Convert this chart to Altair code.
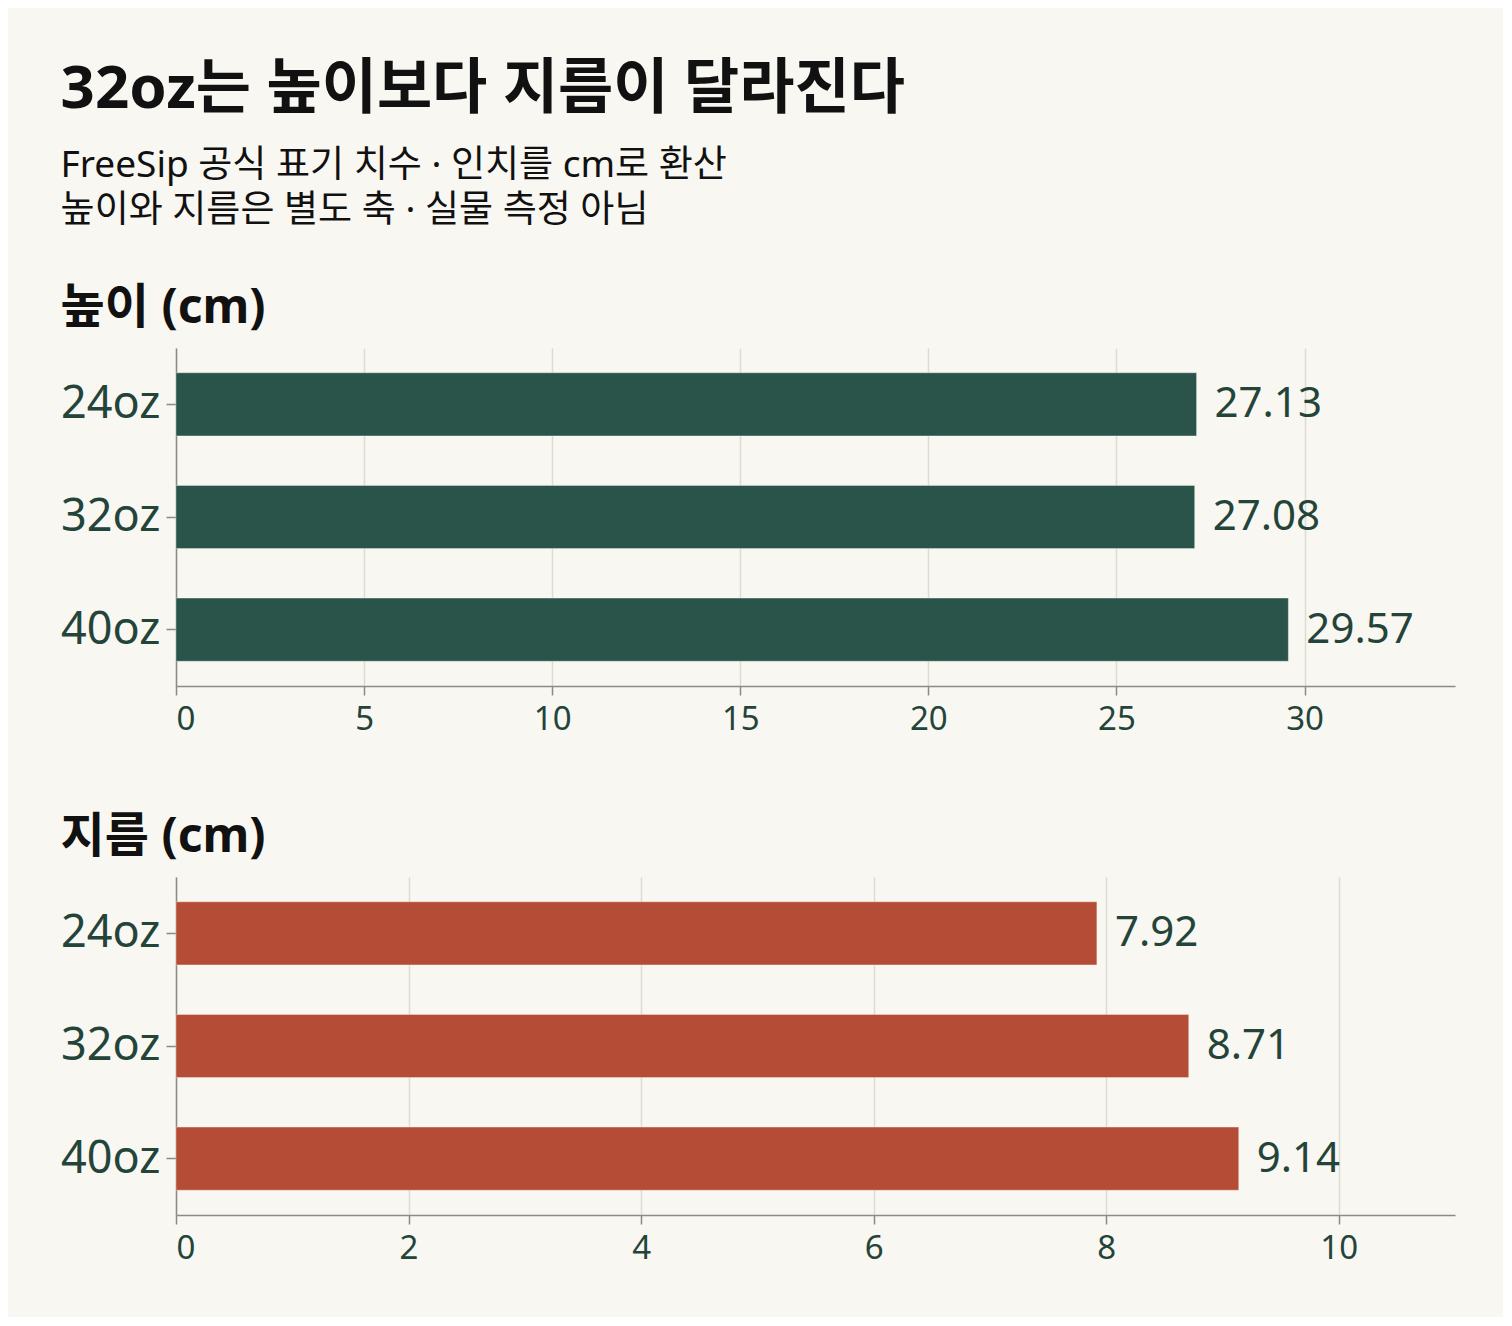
import altair as alt
import pandas as pd

# Data
SIZES = ["24oz", "32oz", "40oz"]
HEIGHT_CM = [27.13, 27.08, 29.57]
DIAMETER_CM = [7.92, 8.71, 9.14]
HEIGHT_TICKS = [0, 5, 10, 15, 20, 25, 30]
DIAMETER_TICKS = [0, 2, 4, 6, 8, 10]

TITLE = "32oz는 높이보다 지름이 달라진다"
SUBTITLE = ["FreeSip 공식 표기 치수 · 인치를 cm로 환산", "높이와 지름은 별도 축 · 실물 측정 아님"]

# Style
BG = "#f8f7f1"
GREEN = "#2a5449"
RED = "#b54d36"
INK = "#24443a"
FONT = "Noto Sans, Noto Sans CJK KR"


def panel(values, title, color, domain_max, ticks):
    df = pd.DataFrame({"size": SIZES, "value": values})
    df["label"] = [f"{v:.2f}" for v in values]

    base = alt.Chart(df).encode(
        alt.Y("size:N", sort=SIZES, title=None)
        .scale(paddingInner=0.44, paddingOuter=0.22)
        .axis(labelFontSize=45, labelPadding=6, tickSize=10, grid=False),
    )

    bars = base.mark_bar(color=color, stroke="white", strokeWidth=1, strokeOpacity=0.35).encode(
        alt.X("value:Q", title=None)
        .scale(domain=[0, domain_max], nice=False)
        .axis(values=ticks, format="d", labelFontSize=33, labelPadding=8, tickSize=9, grid=True),
    )

    text = base.mark_text(align="left", baseline="middle", dx=18, fontSize=42, font=FONT, color=INK).encode(
        x="value:Q",
        text="label:N",
    )

    return (bars + text).properties(
        width=1279,
        height=338,
        title=alt.TitleParams(title, anchor="start", fontSize=48, fontWeight="bold", font=FONT, color="#111111", offset=15),
    )


top = panel(HEIGHT_CM, "높이 (cm)", GREEN, 34, HEIGHT_TICKS)
bottom = panel(DIAMETER_CM, "지름 (cm)", RED, 11, DIAMETER_TICKS)

chart = (
    alt.vconcat(top, bottom, spacing=78)
    .properties(
        title=alt.TitleParams(
            TITLE,
            subtitle=SUBTITLE,
            anchor="start",
            fontSize=60,
            fontWeight="bold",
            font=FONT,
            color="#111111",
            subtitleFont=FONT,
            subtitleFontSize=37,
            subtitleColor="#111111",
            subtitleLineHeight=45,
            subtitlePadding=27,
            offset=55,
        ),
        padding={"left": 52, "top": 52, "right": 48, "bottom": 52},
        background=BG,
    )
    .configure_view(stroke=None)
    .configure_axis(
        labelFont=FONT,
        labelColor=INK,
        domainColor="#8a8a8a",
        domainWidth=1.5,
        tickColor="#8a8a8a",
        tickWidth=1.5,
        gridColor="#dddcd2",
        gridWidth=1.5,
    )
)

chart.save("out.html", embed_options={"renderer": "svg", "actions": False})
